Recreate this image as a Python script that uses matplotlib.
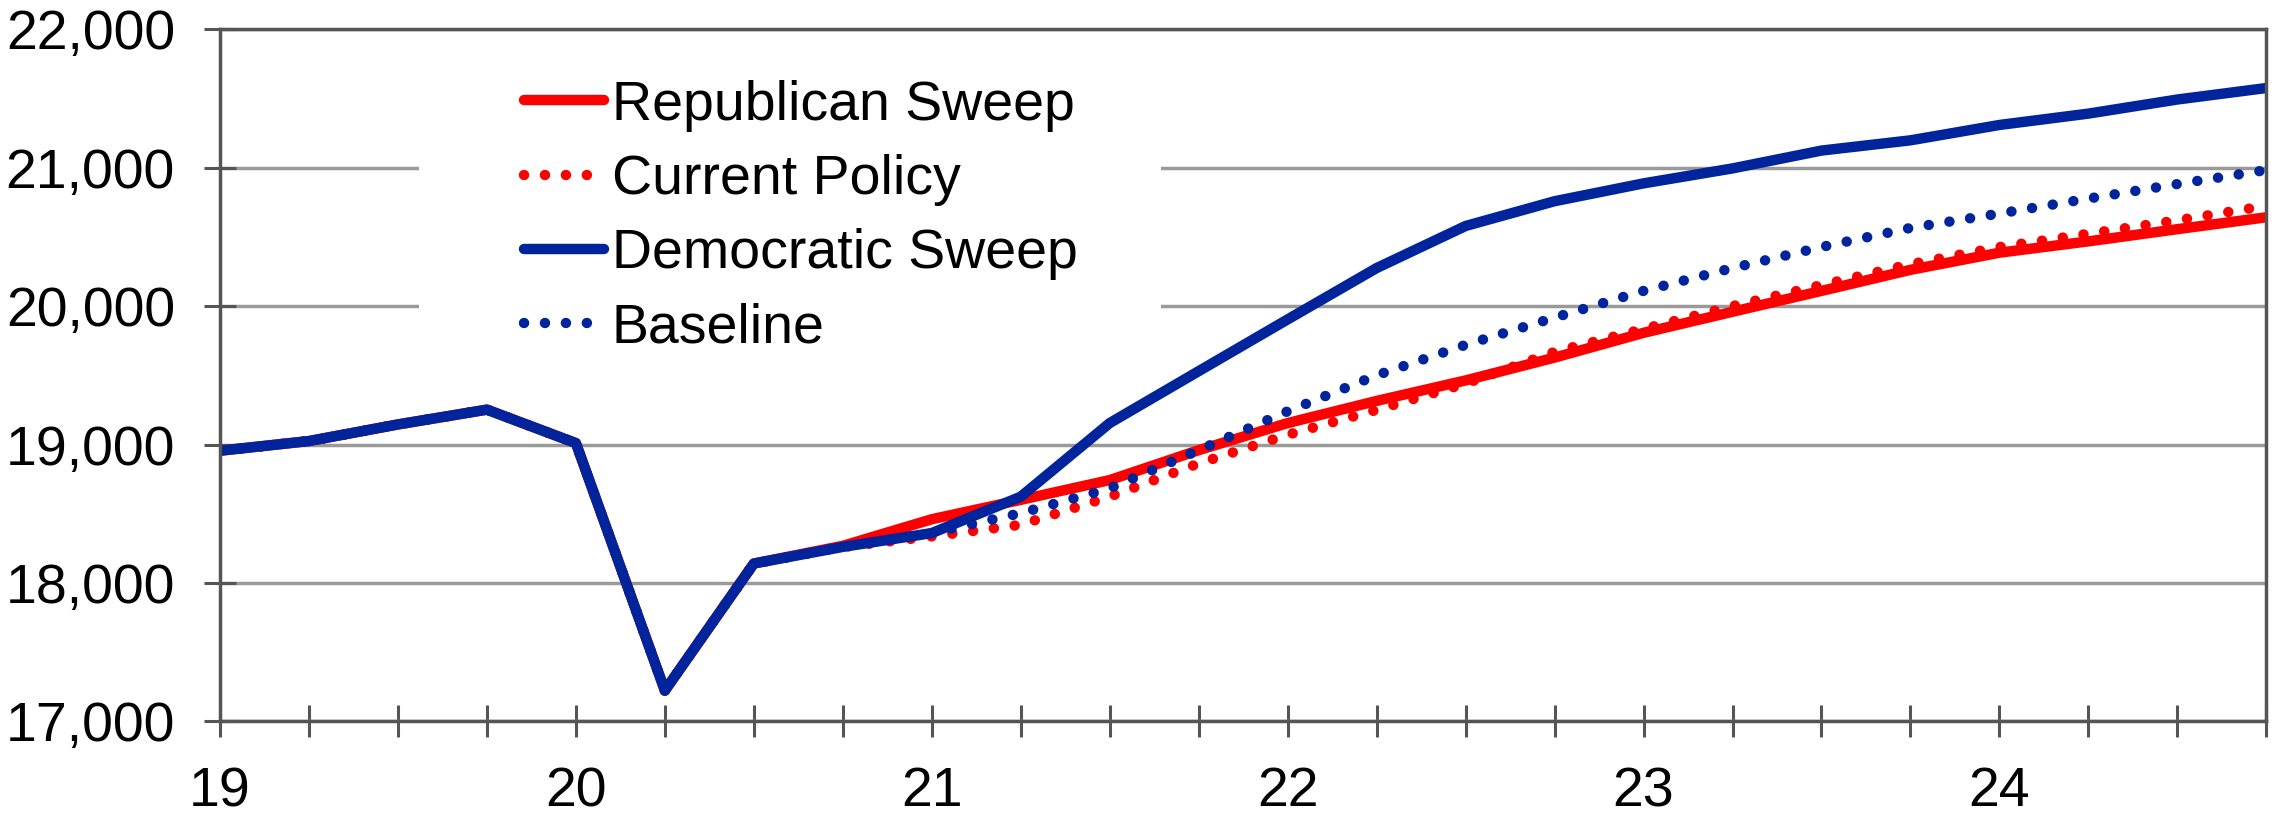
import numpy as np
import matplotlib
matplotlib.use('Agg')
import matplotlib.pyplot as plt
from matplotlib.patches import Rectangle

# quarterly, 2019Q1 .. 2024Q4 (x in years, "19" = 2019)
quarters = np.arange(19, 25, 0.25)

republican = [18955, 19025, 19145, 19252, 19010, 17222, 18140, 18268,
              18460, 18600, 18743, 18959, 19155, 19315, 19463, 19628,
              19807, 19959, 20110, 20262, 20386, 20468, 20556, 20642]
current_policy = [18955, 19025, 19145, 19252, 19010, 17222, 18140, 18260,
                  18336, 18420, 18623, 18863, 19070, 19250, 19440, 19669,
                  19835, 20000, 20152, 20303, 20427, 20523, 20620, 20725]
democratic = [18955, 19025, 19145, 19252, 19010, 17222, 18140, 18260,
              18360, 18623, 19155, 19530, 19904, 20275, 20579, 20758,
              20887, 20995, 21124, 21198, 21309, 21391, 21493, 21576]
baseline = [18955, 19025, 19145, 19252, 19010, 17222, 18140, 18260,
            18360, 18504, 18683, 18959, 19240, 19500, 19720, 19917,
            20110, 20275, 20427, 20565, 20669, 20777, 20882, 20983]

red = '#FF0000'
blue = '#00249C'

plt.rcParams['font.family'] = ['Liberation Sans', 'DejaVu Sans']

fig, ax = plt.subplots(figsize=(22.8, 8.15), dpi=100)
fig.subplots_adjust(left=0.0965, right=0.994, bottom=0.115, top=0.964)

lw = 7.5
dots = (0, (0.01, 2.0))
ax.plot(quarters, republican, color=red, lw=lw, solid_capstyle='round',
        label='Republican Sweep', zorder=3)
ax.plot(quarters, current_policy, color=red, lw=lw, linestyle=dots,
        dash_capstyle='round', label='Current Policy', zorder=3)
ax.plot(quarters, democratic, color=blue, lw=lw, solid_capstyle='round',
        label='Democratic Sweep', zorder=4)
ax.plot(quarters, baseline, color=blue, lw=lw, linestyle=dots,
        dash_capstyle='round', label='Baseline', zorder=4)

ax.set_xlim(19, 24.75)
ax.set_ylim(17000, 22000)
ax.set_xticks(quarters)
ax.set_xticklabels([str(int(q)) if q == int(q) else '' for q in quarters])
ax.set_yticks(range(17000, 22001, 1000))
ax.yaxis.set_major_formatter(matplotlib.ticker.StrMethodFormatter('{x:,.0f}'))

ax.set_axisbelow(True)
ax.grid(axis='y', color='#9A9A9A', lw=2.5)
for s in ax.spines.values():
    s.set_color('#555555')
    s.set_linewidth(2.5)
    s.set_zorder(5)
ax.tick_params(axis='both', direction='inout', length=23, width=2.2,
               color='#555555', labelsize=40, pad=21)

# white block behind the legend hides the gridlines there
ax.add_patch(Rectangle((0.0974, 0.506), 0.3626, 0.49, transform=ax.transAxes,
                       facecolor='white', edgecolor='none', zorder=1.8))

leg = ax.legend(loc='upper left', bbox_to_anchor=(0.1485, 0.927), fontsize=40,
                frameon=False, handlelength=1.45, handletextpad=0.13,
                labelspacing=0.40, borderpad=0, borderaxespad=0)
leg.set_zorder(2)

plt.savefig('out.png', dpi=100)
